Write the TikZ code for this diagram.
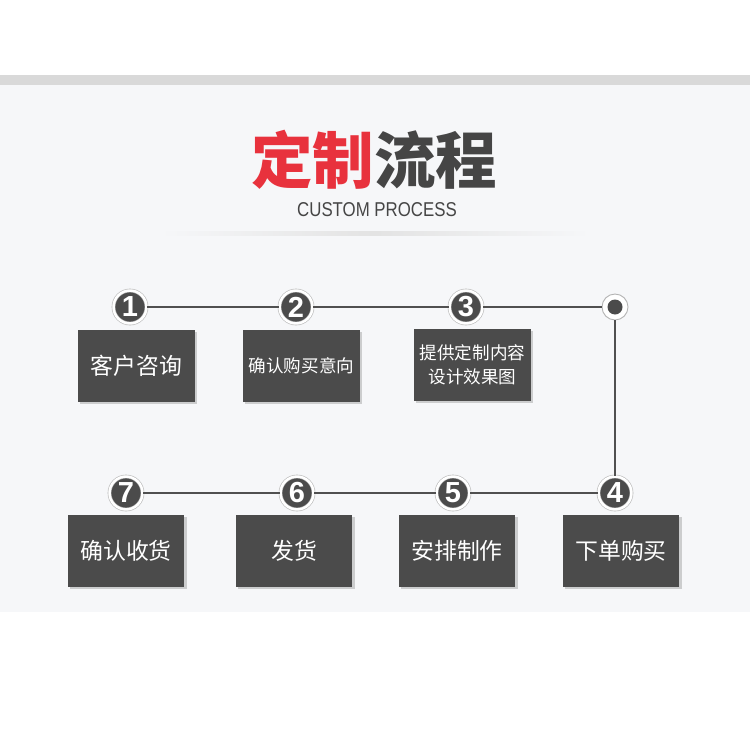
\documentclass[tikz,border=0pt]{standalone}
\usepackage{fontspec}
\newfontfamily\cjk{Noto Sans CJK SC}
\newfontfamily\latin[FakeStretch=0.84]{Liberation Sans}
\newfontfamily\numfont{Liberation Sans}
\usetikzlibrary{shadows}
\definecolor{panel}{HTML}{F6F7F9}
\definecolor{band}{HTML}{D9D9D9}
\definecolor{boxgray}{HTML}{4B4B4B}
\definecolor{linegray}{HTML}{505050}
\definecolor{titlered}{HTML}{E8323D}
\definecolor{titlegray}{HTML}{454545}

\begin{document}
\begin{tikzpicture}[x=0.02cm, y=-0.02cm,
  stepbox/.style={fill=boxgray, minimum width=2.34cm, minimum height=1.44cm, inner sep=0pt, text=white, align=center,
    font=\cjk\fontsize{13}{15}\selectfont, drop shadow={shadow xshift=1.2pt, shadow yshift=-1.2pt, opacity=0.35}},
  num/.style={circle, fill=boxgray, draw=gray!55, line width=0.35pt, double=white, double distance=1.4pt,
    minimum size=0.66cm, inner sep=0pt, text=white, font=\numfont\bfseries\fontsize{16.5}{16.5}\selectfont},
  flow/.style={draw=linegray, line width=1.1pt}]
	\useasboundingbox (0,0) rectangle (750,750);
	\fill[white] (0,0) rectangle (750,750);
	\fill[panel] (0,85) rectangle (750,612);
	\fill[band] (0,75) rectangle (750,85);
	\shade[left color=panel, right color=gray!22] (160,231) rectangle (375,235);
	\shade[left color=gray!22, right color=panel] (375,231) rectangle (590,235);
	\node (title) at (374,160) {\cjk\bfseries\fontsize{35}{40}\selectfont\textcolor{titlered}{定制}\textcolor{titlegray}{流程}};
	\node[text=titlegray] (subtitle) at (377,210) {\latin\fontsize{11.4}{14}\selectfont CUSTOM PROCESS};
	\node[stepbox] (b1) at (136.5,366) {客户咨询};
	\node[stepbox, font=\cjk\fontsize{10}{12}\selectfont] (b2) at (301.5,366) {确认购买意向};
	\node[stepbox, font=\cjk\fontsize{10}{13.6}\selectfont] (b3) at (472.5,365) {提供定制内容\\设计效果图};
	\node[stepbox] (b4) at (621,551) {下单购买};
	\node[stepbox] (b5) at (457,551) {安排制作};
	\node[stepbox] (b6) at (294,551) {发货};
	\node[stepbox] (b7) at (126,551) {确认收货};
	\node[num] (c1) at (130,307) {1};
	\node[num] (c2) at (296,307) {2};
	\node[num] (c3) at (466,307) {3};
	\node[circle, fill=white, draw=gray!60, line width=0.5pt, minimum size=0.52cm] (cEnd) at (615,307) {};
	\fill[boxgray] (cEnd.center) circle[radius=7.5];
	\node[num] (c4) at (615,493) {4};
	\node[num] (c5) at (453,493) {5};
	\node[num] (c6) at (297,493) {6};
	\node[num] (c7) at (126,493) {7};
	\draw[flow] (c1) -- (c2);
	\draw[flow] (c2) -- (c3);
	\draw[flow] (c3) -- (cEnd);
	\draw[flow] (cEnd) -- (c4);
	\draw[flow] (c4) -- (c5);
	\draw[flow] (c5) -- (c6);
	\draw[flow] (c6) -- (c7);
\end{tikzpicture}
\end{document}
